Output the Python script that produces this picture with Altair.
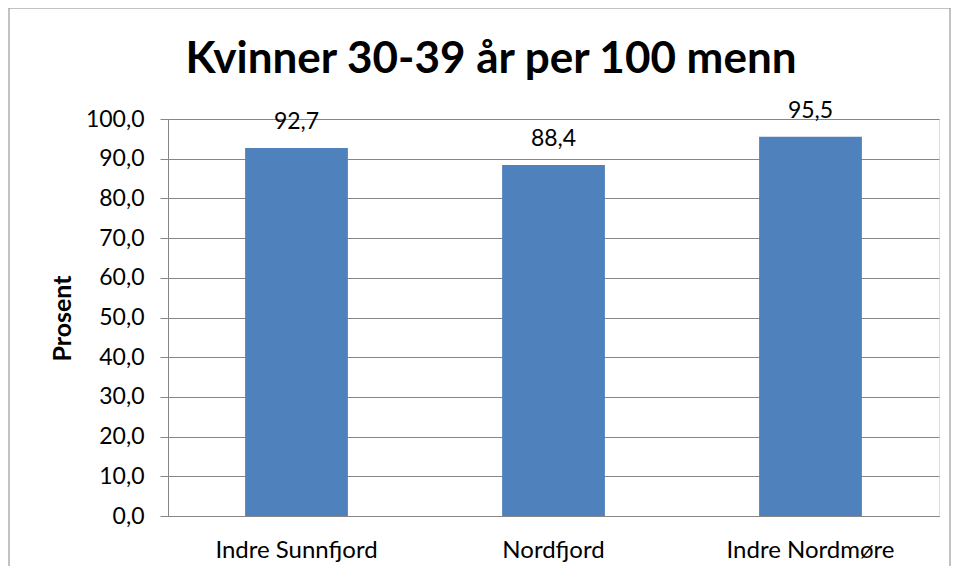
import altair as alt
import pandas as pd

categories = ["Indre Sunnfjord", "Nordfjord", "Indre Nordmøre"]
values = [92.7, 88.4, 95.5]
value_labels = ["92,7", "88,4", "95,5"]
y_ticks = [0, 10, 20, 30, 40, 50, 60, 70, 80, 90, 100]
title_text = "Kvinner 30-39 år per 100 menn"

df = pd.DataFrame({"region": categories, "verdi": values, "etikett": value_labels})

FONT = "Lato"
W, H = 771, 397

x = alt.X("region:N", sort=categories, title=None,
          scale=alt.Scale(paddingInner=0.6, paddingOuter=0.3),
          axis=alt.Axis(labelAngle=0, labelFont=FONT, labelFontSize=24, labelColor="#000000",
                        ticks=False, domainColor="#868686", labelPadding=22, grid=False,
                        labelOverlap=False))
y = alt.Y("verdi:Q", title="Prosent",
          scale=alt.Scale(domain=[0, 100], nice=False),
          axis=alt.Axis(values=y_ticks, tickCount=11,
                        labelExpr="replace(format(datum.value, '.1f'), '.', ',')",
                        labelFont=FONT, labelFontSize=23, labelColor="#000000", labelPadding=16,
                        labelOverlap=False,
                        tickSize=8, tickColor="#868686", domainColor="#868686",
                        gridColor="#868686", gridWidth=1,
                        titleFont=FONT, titleFontSize=25, titleFontWeight="bold", titleColor="#000000",
                        titleX=-106, titleY=199, titleAngle=270, titleAlign="center",
                        titleBaseline="middle"))

base = alt.Chart(df)
bars = base.mark_bar(color="#4F81BD").encode(x=x, y=y)
labels = base.mark_text(font=FONT, fontSize=23, color="#000000", baseline="alphabetic", dy=-19).encode(
    x=x, y=y, text="etikett:N")

title = alt.Chart(alt.Data(values=[{"t": title_text}])).mark_text(
    font=FONT, fontSize=44, fontWeight="bold", color="#000000", baseline="alphabetic", align="center"
).encode(x=alt.value(323), y=alt.value(-46), text="t:N")

border = alt.Chart(alt.Data(values=[{"a": 1}])).mark_rect(
    fill=None, stroke="#868686", strokeWidth=1
).encode(x=alt.value(-159), x2=alt.value(782), y=alt.value(-111), y2=alt.value(480))

chart = alt.layer(border, bars, labels, title).properties(
    width=W, height=H,
    autosize=alt.AutoSizeParams(type="none"),
    padding={"left": 160, "top": 111, "right": 12, "bottom": 50},
).configure_view(stroke=None).configure(background="#ffffff")

chart.save("out.html", embed_options={"renderer": "svg", "actions": False})
